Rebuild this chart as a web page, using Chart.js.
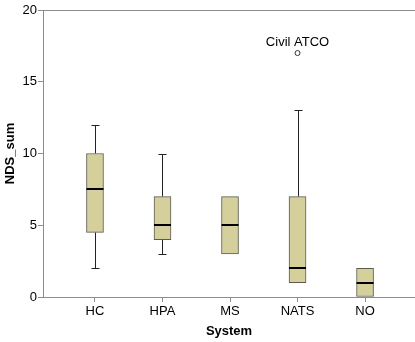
<!DOCTYPE html>
<html>
<head>
<meta charset="utf-8">
<script src="https://cdn.jsdelivr.net/npm/chart.js@4"></script>
<style>
  html, body { margin: 0; padding: 0; background: #fff; }
  #wrap { width: 415px; height: 342px; }
</style>
</head>
<body>
<div id="wrap"><canvas id="chart"></canvas></div>
<script>
const systems = ["HC", "HPA", "MS", "NATS", "NO"];
const mins    = [2,   3, 3, 1,  0];
const q1s     = [4.5, 4, 3, 1,  0];
const medians = [7.5, 5, 5, 2,  1];
const q3s     = [10,  7, 7, 7,  2];
const maxs    = [12, 10, 7, 13, 2];
const outlierIndex = [3];
const outlierValues = [17];
const outlierLabels = ["Civil ATCO"];

const font = "'Liberation Sans', Arial, sans-serif";
const axisGray = "#8c8c8c";

const boxData = systems.map((s, i) => ({ x: i, y: [q1s[i], q3s[i]] }));

// whiskers, medians and outliers drawn with the chart's scales
const boxPlugin = {
    id: "boxExtras",
    beforeDatasetsDraw(chart) {
        const { ctx, scales: { x, y }, chartArea } = chart;
        ctx.save();
        ctx.strokeStyle = axisGray;
        ctx.lineWidth = 1;
        ctx.beginPath();
        ctx.moveTo(chartArea.left, Math.round(chartArea.top) + 0.5);
        ctx.lineTo(chartArea.right, Math.round(chartArea.top) + 0.5);
        ctx.stroke();

        ctx.strokeStyle = "#222";
        systems.forEach((s, i) => {
            const cx = Math.round(x.getPixelForValue(i)) + 0.5;
            const segs = [[q3s[i], maxs[i]], [q1s[i], mins[i]]];
            segs.forEach(([a, b]) => {
                if (a === b) return;
                const ya = y.getPixelForValue(a);
                const yb = Math.round(y.getPixelForValue(b)) + 0.5;
                ctx.beginPath();
                ctx.moveTo(cx, ya);
                ctx.lineTo(cx, yb);
                ctx.moveTo(cx - 4, yb);
                ctx.lineTo(cx + 4, yb);
                ctx.stroke();
            });
        });
        ctx.restore();
    },
    afterDatasetsDraw(chart) {
        const { ctx, scales: { x, y } } = chart;
        ctx.save();
        ctx.strokeStyle = "#000";
        ctx.lineWidth = 2;
        systems.forEach((s, i) => {
            const cx = x.getPixelForValue(i);
            const my = Math.round(y.getPixelForValue(medians[i]));
            ctx.beginPath();
            ctx.moveTo(cx - 8.5, my);
            ctx.lineTo(cx + 8.5, my);
            ctx.stroke();
        });

        ctx.lineWidth = 1;
        ctx.strokeStyle = "#333";
        ctx.fillStyle = "#fff";
        outlierIndex.forEach((i, k) => {
            const px = x.getPixelForValue(i);
            const py = y.getPixelForValue(outlierValues[k]);
            ctx.beginPath();
            ctx.arc(px, py, 2.5, 0, Math.PI * 2);
            ctx.fill();
            ctx.stroke();
        });

        ctx.fillStyle = "#000";
        ctx.font = "13px " + font;
        ctx.textAlign = "center";
        ctx.textBaseline = "middle";
        outlierIndex.forEach((i, k) => {
            ctx.fillText(outlierLabels[k], x.getPixelForValue(i), y.getPixelForValue(outlierValues[k]) - 11);
        });
        ctx.restore();
    }
};

new Chart(document.getElementById("chart"), {
    type: "bar",
    data: {
        datasets: [
            {
                label: "box",
                data: boxData,
                backgroundColor: "#d4cf9b",
                borderColor: "#5a5a50",
                borderWidth: 1,
                borderSkipped: false,
                barThickness: 17
            }
        ]
    },
    options: {
        responsive: true,
        maintainAspectRatio: false,
        animation: false,
        layout: { padding: { top: 10, right: 0, left: 0, bottom: 0 } },
        plugins: {
            legend: { display: false },
            tooltip: { enabled: false }
        },
        scales: {
            x: {
                type: "linear",
                offset: false,
                min: -0.77,
                max: 4.74,
                afterBuildTicks: (scale) => {
                    scale.ticks = systems.map((s, i) => ({ value: i }));
                },
                afterFit: (scale) => { scale.height = 45; },
                ticks: {
                    callback: (v) => systems[v],
                    color: "#000",
                    font: { family: font, size: 13 },
                    padding: 2,
                    maxRotation: 0,
                    autoSkip: false
                },
                grid: { offset: false, drawOnChartArea: false, tickLength: 5, color: axisGray },
                border: { color: axisGray },
                title: {
                    display: true,
                    text: "System",
                    color: "#000",
                    font: { family: font, size: 13, weight: "bold" },
                    padding: { top: 0, bottom: 2.5 }
                }
            },
            y: {
                min: 0,
                max: 20,
                afterFit: (scale) => { scale.width = 43; },
                ticks: {
                    stepSize: 5,
                    color: "#000",
                    font: { family: font, size: 13 },
                    padding: 1
                },
                grid: { drawOnChartArea: false, tickLength: 5, color: axisGray },
                border: { color: axisGray },
                title: {
                    display: true,
                    text: "NDS_sum",
                    color: "#000",
                    font: { family: font, size: 13, weight: "bold" },
                    padding: { top: 3, bottom: 0 }
                }
            }
        }
    },
    plugins: [boxPlugin]
});
</script>
</body>
</html>
